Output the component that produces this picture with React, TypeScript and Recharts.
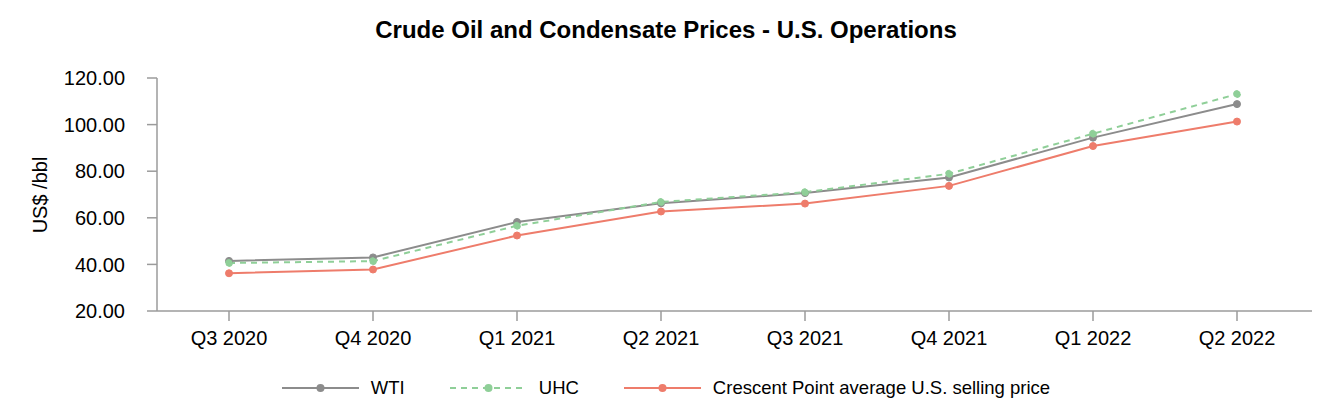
import React from 'react';
import { LineChart, Line, XAxis, YAxis, Legend } from 'recharts';

const quarters = ['Q3 2020', 'Q4 2020', 'Q1 2021', 'Q2 2021', 'Q3 2021', 'Q4 2021', 'Q1 2022', 'Q2 2022'];
const wti = [41.5, 43.0, 58.2, 66.2, 70.6, 77.3, 94.4, 108.8];
const uhc = [40.6, 41.4, 56.6, 66.8, 71.0, 78.9, 96.1, 113.1];
const crescent = [36.2, 37.8, 52.4, 62.7, 66.1, 73.7, 90.8, 101.3];
const yTicks = [20, 40, 60, 80, 100, 120];

const SERIES = [
  { key: 'wti', name: 'WTI', color: '#8c8c8c', dash: undefined as string | undefined },
  { key: 'uhc', name: 'UHC', color: '#8fcf98', dash: '6 5' },
  { key: 'crescent', name: 'Crescent Point average U.S. selling price', color: '#ee7c6b', dash: undefined },
];

const chartData = quarters.map((q, i) => ({
  quarter: q,
  wti: wti[i],
  uhc: uhc[i],
  crescent: crescent[i],
}));

const FONT = '"Liberation Sans", Arial, sans-serif';
const AXIS = '#9b9b9b';

function LegendContent() {
  return (
    <div
      style={{
        height: 69,
        boxSizing: 'border-box',
        paddingTop: 25,
        display: 'flex',
        justifyContent: 'center',
        alignItems: 'flex-start',
        fontFamily: FONT,
        fontSize: 18.5,
        color: '#000',
      }}
    >
      {SERIES.map((s, i) => (
        <div
          key={s.key}
          style={{
            display: 'flex',
            alignItems: 'center',
            height: 24,
            marginRight: i < SERIES.length - 1 ? 45 : 0,
          }}
        >
          <svg width={77} height={12} style={{ marginRight: 12 }}>
            <line x1={0} y1={6} x2={77} y2={6} stroke={s.color} strokeWidth={2} strokeDasharray={s.dash} />
            <circle cx={38.5} cy={6} r={4} fill={s.color} />
          </svg>
          <span>{s.name}</span>
        </div>
      ))}
    </div>
  );
}

export default function App() {
  return (
    <div style={{ position: 'absolute', left: 0, top: 0, width: 1332, height: 420, background: '#fff', fontFamily: FONT }}>
      <div
        style={{
          position: 'absolute',
          top: 16,
          left: 0,
          width: 1332,
          textAlign: 'center',
          fontWeight: 700,
          fontSize: 24,
          lineHeight: '28px',
          color: '#000',
          zIndex: 1,
        }}
      >
        Crude Oil and Condensate Prices - U.S. Operations
      </div>
      <LineChart width={1332} height={420} data={chartData} margin={{ top: 78, right: 20, left: 0, bottom: 0 }}>
        <XAxis
          dataKey="quarter"
          padding={{ left: 72, right: 75 }}
          height={40}
          tickSize={10}
          tickMargin={10}
          stroke={AXIS}
          strokeWidth={1.5}
          tick={{ fill: '#000', fontSize: 20, fontFamily: FONT }}
          interval={0}
        />
        <YAxis
          width={157}
          domain={[20, 120]}
          ticks={yTicks}
          tickFormatter={(v: number) => v.toFixed(2)}
          tickSize={10}
          tickMargin={22}
          stroke={AXIS}
          strokeWidth={1.5}
          tick={{ fill: '#000', fontSize: 20, fontFamily: FONT }}
          label={{
            content: () => (
              <text
                x={40}
                y={195}
                transform="rotate(-90 40 195)"
                textAnchor="middle"
                dominantBaseline="central"
                fontSize={20}
                fontFamily={FONT}
                fill="#000"
              >
                US$ /bbl
              </text>
            ),
          }}
        />
        <Legend verticalAlign="bottom" content={<LegendContent />} wrapperStyle={{ left: 0, width: 1332 }} />
        {SERIES.map((s) => (
          <Line
            key={s.key}
            type="linear"
            dataKey={s.key}
            name={s.name}
            stroke={s.color}
            strokeWidth={2}
            strokeDasharray={s.dash}
            dot={{ r: 3.5, fill: s.color, stroke: s.color, strokeWidth: 1 }}
            activeDot={false}
            isAnimationActive={false}
          />
        ))}
      </LineChart>
    </div>
  );
}
